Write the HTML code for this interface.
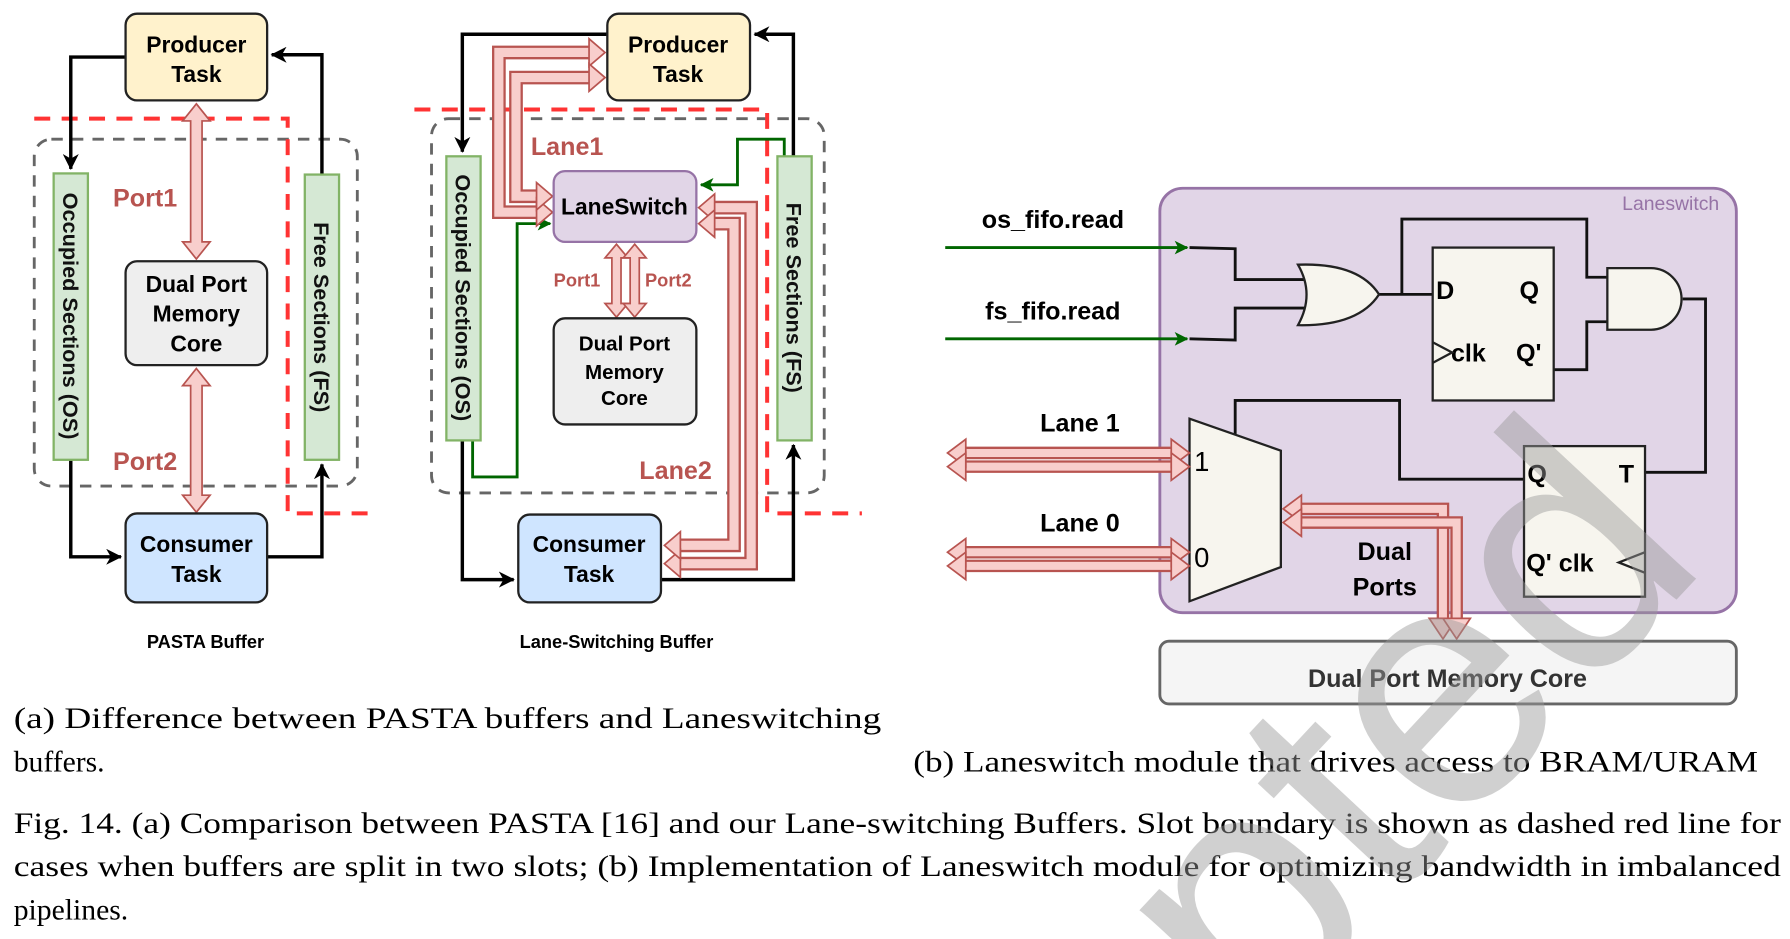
<!DOCTYPE html>
<html><head><meta charset="utf-8"><style>
html,body{margin:0;padding:0;background:#fff;width:1790px;height:939px;overflow:hidden}
svg{display:block}
.b{font-family:"Liberation Sans",sans-serif;font-weight:bold}
.s{font-family:"Liberation Serif",serif}
</style></head><body>
<svg width="1790" height="939" viewBox="0 0 1568 823" preserveAspectRatio="none" xmlns="http://www.w3.org/2000/svg">
<defs>
<marker id="ak" markerWidth="14" markerHeight="14" refX="13" refY="7" orient="auto" markerUnits="userSpaceOnUse"><path d="M0,0 L14,7 L0,14 L4,7 z" fill="#000"/></marker>
<marker id="ag" markerWidth="12" markerHeight="12" refX="11" refY="6" orient="auto" markerUnits="userSpaceOnUse"><path d="M0,0 L12,6 L0,12 L3,6 z" fill="#006600"/></marker>
<clipPath id="cp"><rect width="1568" height="823"/></clipPath>
</defs>
<g clip-path="url(#cp)">
<rect width="1568" height="823" fill="#fff"/>

<!-- ===== (a) PASTA ===== -->
<rect x="30" y="122" width="283" height="304" rx="15" fill="none" stroke="#666" stroke-width="2.5" stroke-dasharray="10,8"/>
<polyline points="30,104 252,104 252,450 330,450" fill="none" stroke="#f33" stroke-width="3.5" stroke-dasharray="14,10"/>
<polyline points="110,50 62,50 62,148" fill="none" stroke="#000" stroke-width="3" marker-end="url(#ak)"/>
<polyline points="62,403 62,488 106,488" fill="none" stroke="#000" stroke-width="3" marker-end="url(#ak)"/>
<polyline points="234,488 282,488 282,407" fill="none" stroke="#000" stroke-width="3" marker-end="url(#ak)"/>
<polyline points="282,153 282,48 238,48" fill="none" stroke="#000" stroke-width="3" marker-end="url(#ak)"/>
<rect x="47" y="152" width="30" height="251" fill="#d5e8d4" stroke="#82b366" stroke-width="2"/>
<text class="b" font-size="19" transform="translate(55,277) rotate(90)" text-anchor="middle" fill="#111">Occupied Sections (OS)</text>
<rect x="267" y="153" width="30" height="250" fill="#d5e8d4" stroke="#82b366" stroke-width="2"/>
<text class="b" font-size="19" transform="translate(275,278) rotate(90)" text-anchor="middle" fill="#111">Free Sections (FS)</text>
<path d="M172,91 L184,106 L177,106 L177,212 L184,212 L172,227 L160,212 L167,212 L167,106 L160,106 Z" fill="#f8cecc" stroke="#b85450" stroke-width="1.5"/>
<path d="M172,323 L184,338 L177,338 L177,434 L184,434 L172,449 L160,434 L167,434 L167,338 L160,338 Z" fill="#f8cecc" stroke="#b85450" stroke-width="1.5"/>
<rect x="110" y="12" width="124" height="76" rx="10" fill="#fff2cc" stroke="#222" stroke-width="2"/>
<text class="b" font-size="20" x="172" y="46" text-anchor="middle">Producer</text>
<text class="b" font-size="20" x="172" y="72" text-anchor="middle">Task</text>
<rect x="110" y="229" width="124" height="91" rx="10" fill="#eeeeee" stroke="#222" stroke-width="2"/>
<text class="b" font-size="20" x="172" y="256" text-anchor="middle">Dual Port</text>
<text class="b" font-size="20" x="172" y="282" text-anchor="middle">Memory</text>
<text class="b" font-size="20" x="172" y="308" text-anchor="middle">Core</text>
<rect x="110" y="450" width="124" height="78" rx="10" fill="#cfe5ff" stroke="#222" stroke-width="2"/>
<text class="b" font-size="20" x="172" y="484" text-anchor="middle">Consumer</text>
<text class="b" font-size="20" x="172" y="510" text-anchor="middle">Task</text>
<text class="b" font-size="22" x="99" y="181" fill="#b85450">Port1</text>
<text class="b" font-size="22" x="99" y="412" fill="#b85450">Port2</text>
<text class="b" font-size="16" x="180" y="568" text-anchor="middle">PASTA Buffer</text>

<!-- ===== (a) Lane-switching ===== -->
<rect x="378" y="104" width="344" height="328" rx="15" fill="none" stroke="#666" stroke-width="2.5" stroke-dasharray="10,8"/>
<polyline points="363,96 672,96 672,450 755,450" fill="none" stroke="#f33" stroke-width="3.5" stroke-dasharray="14,10"/>
<polyline points="532,30 405,30 405,133" fill="none" stroke="#000" stroke-width="3" marker-end="url(#ak)"/>
<polyline points="405,386 405,508 450,508" fill="none" stroke="#000" stroke-width="3" marker-end="url(#ak)"/>
<polyline points="579,508 695,508 695,390" fill="none" stroke="#000" stroke-width="3" marker-end="url(#ak)"/>
<polyline points="695,137 695,30 661,30" fill="none" stroke="#000" stroke-width="3" marker-end="url(#ak)"/>
<polyline points="414,386 414,418 453,418 453,196 482,196" fill="none" stroke="#006600" stroke-width="2.5" marker-end="url(#ag)"/>
<polyline points="687,137 687,122 646,122 646,162 614,162" fill="none" stroke="#006600" stroke-width="2.5" marker-end="url(#ag)"/>
<g fill="none" stroke-linejoin="miter">
<polyline points="472,186 437,186 437,46 520,46" stroke="#b85450" stroke-width="12"/>
<polyline points="472,186 437,186 437,46 520,46" stroke="#f8cecc" stroke-width="8"/>
<polyline points="472,172 452,172 452,68 520,68" stroke="#b85450" stroke-width="12"/>
<polyline points="472,172 452,172 452,68 520,68" stroke="#f8cecc" stroke-width="8"/>
<polyline points="622,182 658,182 658,494 592,494" stroke="#b85450" stroke-width="12"/>
<polyline points="622,182 658,182 658,494 592,494" stroke="#f8cecc" stroke-width="8"/>
<polyline points="622,196 643,196 643,478 592,478" stroke="#b85450" stroke-width="12"/>
<polyline points="622,196 643,196 643,478 592,478" stroke="#f8cecc" stroke-width="8"/>
</g>
<g fill="#f8cecc" stroke="#b85450" stroke-width="1.5">
<path d="M530,46 L516,34 L516,58 Z"/><path d="M530,68 L516,56 L516,80 Z"/>
<path d="M484,186 L470,174 L470,198 Z"/><path d="M484,172 L470,160 L470,184 Z"/>
<path d="M612,182 L626,170 L626,194 Z"/><path d="M612,196 L626,184 L626,208 Z"/>
<path d="M582,494 L596,482 L596,506 Z"/><path d="M582,478 L596,466 L596,490 Z"/>
<path d="M540,214 L550,226 L544,226 L544,266 L550,266 L540,278 L530,266 L536,266 L536,226 L530,226 Z"/>
<path d="M556,214 L566,226 L560,226 L560,266 L566,266 L556,278 L546,266 L552,266 L552,226 L546,226 Z"/>
</g>
<rect x="391" y="137" width="30" height="249" fill="#d5e8d4" stroke="#82b366" stroke-width="2"/>
<text class="b" font-size="19" transform="translate(399,261) rotate(90)" text-anchor="middle" fill="#111">Occupied Sections (OS)</text>
<rect x="681" y="137" width="30" height="249" fill="#d5e8d4" stroke="#82b366" stroke-width="2"/>
<text class="b" font-size="19" transform="translate(689,261) rotate(90)" text-anchor="middle" fill="#111">Free Sections (FS)</text>
<rect x="532" y="12" width="125" height="76" rx="10" fill="#fff2cc" stroke="#222" stroke-width="2"/>
<text class="b" font-size="20" x="594" y="46" text-anchor="middle">Producer</text>
<text class="b" font-size="20" x="594" y="72" text-anchor="middle">Task</text>
<rect x="485" y="150" width="125" height="62" rx="10" fill="#e1d5e7" stroke="#9673a6" stroke-width="2"/>
<text class="b" font-size="20" x="547" y="188" text-anchor="middle">LaneSwitch</text>
<rect x="485" y="279" width="125" height="93" rx="10" fill="#eeeeee" stroke="#222" stroke-width="2"/>
<text class="b" font-size="18" x="547" y="307" text-anchor="middle">Dual Port</text>
<text class="b" font-size="18" x="547" y="332" text-anchor="middle">Memory</text>
<text class="b" font-size="18" x="547" y="355" text-anchor="middle">Core</text>
<rect x="454" y="451" width="125" height="77" rx="10" fill="#cfe5ff" stroke="#222" stroke-width="2"/>
<text class="b" font-size="20" x="516" y="484" text-anchor="middle">Consumer</text>
<text class="b" font-size="20" x="516" y="510" text-anchor="middle">Task</text>
<text class="b" font-size="16" x="485" y="251" fill="#b85450">Port1</text>
<text class="b" font-size="16" x="565" y="251" fill="#b85450">Port2</text>
<text class="b" font-size="22" x="465" y="136" fill="#b85450">Lane1</text>
<text class="b" font-size="22" x="560" y="420" fill="#b85450">Lane2</text>
<text class="b" font-size="16" x="540" y="568" text-anchor="middle">Lane-Switching Buffer</text>

<!-- ===== (b) ===== -->
<rect x="1016" y="165" width="505" height="372" rx="20" fill="#e1d5e7" stroke="#9673a6" stroke-width="2.5"/>
<text font-family="Liberation Sans,sans-serif" font-size="17" x="1506" y="184" text-anchor="end" fill="#9673a6">Laneswitch</text>
<text class="b" font-size="22" x="860" y="200">os_fifo.read</text>
<text class="b" font-size="22" x="863" y="280">fs_fifo.read</text>
<line x1="828" y1="217" x2="1040" y2="217" stroke="#006600" stroke-width="2.5" marker-end="url(#ag)"/>
<line x1="828" y1="297" x2="1040" y2="297" stroke="#006600" stroke-width="2.5" marker-end="url(#ag)"/>
<g fill="none" stroke="#111" stroke-width="2.5">
<polyline points="1042,217 1082,218 1082,245 1145,245"/>
<polyline points="1042,297 1082,298 1082,270 1145,270"/>
<polyline points="1208,258 1256,258"/>
<polyline points="1228,258 1228,192 1390,192 1390,243 1412,243"/>
<polyline points="1361,324 1390,324 1390,282 1412,282"/>
<polyline points="1474,262 1494,262 1494,414 1441,414"/>
<polyline points="1335,420 1226,420 1226,351 1082,351 1082,385"/>
</g>
<path d="M1137,232 Q1190,230 1208,258 Q1190,286 1137,285 Q1152,258 1137,232 Z" fill="#f7f5ee" stroke="#222" stroke-width="2"/>
<path d="M1408,235 L1446,235 A27,27 0 0 1 1446,289 L1408,289 Z" fill="#f7f5ee" stroke="#222" stroke-width="2"/>
<rect x="1255" y="217" width="106" height="134" fill="#f7f5ee" stroke="#222" stroke-width="2"/>
<text class="b" font-size="22" x="1258" y="262">D</text>
<text class="b" font-size="22" x="1331" y="262">Q</text>
<text class="b" font-size="22" x="1271" y="317">clk</text>
<text class="b" font-size="22" x="1328" y="317">Q'</text>
<polyline points="1255,300 1272,309 1255,318" fill="none" stroke="#222" stroke-width="2"/>
<rect x="1335" y="391" width="106" height="132" fill="#f7f5ee" stroke="#222" stroke-width="2"/>
<text class="b" font-size="22" x="1338" y="423">Q</text>
<text class="b" font-size="22" x="1418" y="423">T</text>
<text class="b" font-size="22" x="1337" y="501">Q' clk</text>
<polyline points="1441,484 1418,493 1441,502" fill="none" stroke="#222" stroke-width="2"/>
<path d="M1042,367 L1122,395 L1122,497 L1042,527 Z" fill="#f7f5ee" stroke="#222" stroke-width="2"/>
<text font-family="Liberation Sans,sans-serif" font-size="24" x="1046" y="413">1</text>
<text font-family="Liberation Sans,sans-serif" font-size="24" x="1046" y="497">0</text>
<text class="b" font-size="22" x="946" y="378" text-anchor="middle">Lane 1</text>
<text class="b" font-size="22" x="946" y="466" text-anchor="middle">Lane 0</text>
<g fill="none">
<line x1="845" y1="397" x2="1028" y2="397" stroke="#b85450" stroke-width="11"/>
<line x1="845" y1="397" x2="1028" y2="397" stroke="#f8cecc" stroke-width="7"/>
<line x1="845" y1="409" x2="1028" y2="409" stroke="#b85450" stroke-width="11"/>
<line x1="845" y1="409" x2="1028" y2="409" stroke="#f8cecc" stroke-width="7"/>
<line x1="845" y1="484" x2="1028" y2="484" stroke="#b85450" stroke-width="11"/>
<line x1="845" y1="484" x2="1028" y2="484" stroke="#f8cecc" stroke-width="7"/>
<line x1="845" y1="496" x2="1028" y2="496" stroke="#b85450" stroke-width="11"/>
<line x1="845" y1="496" x2="1028" y2="496" stroke="#f8cecc" stroke-width="7"/>
<polyline points="1136,446 1264,446 1264,545" stroke="#b85450" stroke-width="11"/>
<polyline points="1136,446 1264,446 1264,545" stroke="#f8cecc" stroke-width="7"/>
<polyline points="1136,458 1276,458 1276,545" stroke="#b85450" stroke-width="11"/>
<polyline points="1136,458 1276,458 1276,545" stroke="#f8cecc" stroke-width="7"/>
</g>
<g fill="#f8cecc" stroke="#b85450" stroke-width="1.5">
<path d="M830,397 L846,385 L846,409 Z"/><path d="M830,409 L846,397 L846,421 Z"/>
<path d="M1042,397 L1026,385 L1026,409 Z"/><path d="M1042,409 L1026,397 L1026,421 Z"/>
<path d="M830,484 L846,472 L846,496 Z"/><path d="M830,496 L846,484 L846,508 Z"/>
<path d="M1042,484 L1026,472 L1026,496 Z"/><path d="M1042,496 L1026,484 L1026,508 Z"/>
<path d="M1124,446 L1140,434 L1140,458 Z"/><path d="M1124,458 L1140,446 L1140,470 Z"/>
<path d="M1264,560 L1252,542 L1276,542 Z"/><path d="M1276,560 L1264,542 L1288,542 Z"/>
</g>
<text class="b" font-size="22" x="1213" y="491" text-anchor="middle">Dual</text>
<text class="b" font-size="22" x="1213" y="522" text-anchor="middle">Ports</text>
<rect x="1016" y="562" width="505" height="55" rx="8" fill="#f5f5f5" stroke="#666" stroke-width="2.5"/>
<text class="b" font-size="22" x="1268" y="602" text-anchor="middle" fill="#333">Dual Port Memory Core</text>

<!-- captions -->
<text class="s" font-size="26" x="12" y="638" textLength="760" lengthAdjust="spacingAndGlyphs">(a) Difference between PASTA buffers and Laneswitching</text>
<text class="s" font-size="26" x="12" y="676">buffers.</text>
<text class="s" font-size="26" x="800" y="676" textLength="740" lengthAdjust="spacingAndGlyphs">(b) Laneswitch module that drives access to BRAM/URAM</text>
<text class="s" font-size="26" x="12" y="730" textLength="1548" lengthAdjust="spacingAndGlyphs">Fig. 14.  (a) Comparison between PASTA [16] and our Lane-switching Buffers. Slot boundary is shown as dashed red line for</text>
<text class="s" font-size="26" x="12" y="768" textLength="1548" lengthAdjust="spacingAndGlyphs">cases when buffers are split in two slots; (b) Implementation of Laneswitch module for optimizing bandwidth in imbalanced</text>
<text class="s" font-size="26" x="12" y="806">pipelines.</text>

<!-- watermark -->
<text font-family="Liberation Sans,sans-serif" font-size="300" fill="#999" opacity="0.45" transform="translate(1499,493) rotate(-47)" text-anchor="end">Accepted</text>
</g>
</svg>
</body></html>
